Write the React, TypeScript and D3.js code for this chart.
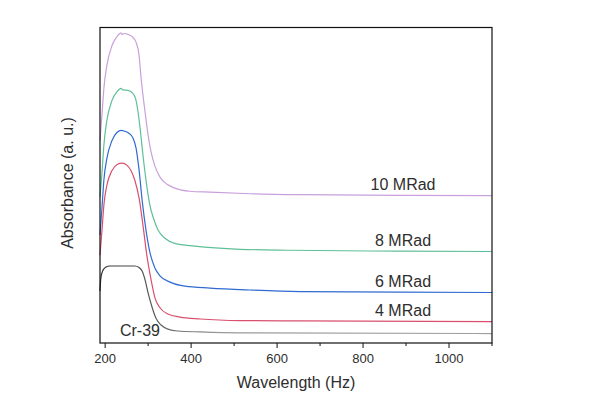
import React from "react";
import * as d3 from "d3";

const xTicksMajor = [200, 400, 600, 800, 1000];
const xTicksMinor = [300, 500, 700, 900, 1100];

const wl10 = [188, 193, 197, 204, 216, 228, 234, 237, 239, 244, 253, 262, 272, 279, 283, 288, 293, 300, 307, 316, 328, 344, 362, 397, 444, 537, 653, 886, 1100];
const abs10 = [6.42, 7.31, 8.07, 8.8, 9.43, 9.72, 9.81, 9.83, 9.78, 9.81, 9.78, 9.72, 9.53, 9.11, 8.48, 7.85, 7.31, 6.58, 6.04, 5.6, 5.25, 5.03, 4.91, 4.81, 4.78, 4.73, 4.7, 4.68, 4.67];

const wl8 = [188, 193, 197, 204, 216, 228, 237, 241, 253, 262, 270, 276, 281, 288, 295, 304, 314, 323, 339, 362, 409, 514, 630, 886, 1100];
const abs8 = [4.62, 5.47, 6.27, 7.06, 7.69, 7.97, 8.07, 8.02, 8.01, 7.94, 7.78, 7.37, 6.84, 5.95, 5.16, 4.37, 3.89, 3.58, 3.32, 3.16, 3.07, 2.97, 2.94, 2.91, 2.9];

const wl6 = [188, 193, 197, 204, 216, 228, 237, 246, 255, 265, 272, 279, 286, 295, 304, 316, 328, 351, 386, 444, 537, 653, 886, 1100];
const abs6 = [3.42, 4.37, 5.16, 5.85, 6.42, 6.68, 6.74, 6.71, 6.65, 6.49, 6.17, 5.47, 4.53, 3.58, 2.88, 2.37, 2.12, 1.93, 1.8, 1.74, 1.68, 1.63, 1.61, 1.6];

const wl4 = [188, 193, 197, 204, 216, 228, 239, 251, 260, 269, 279, 288, 297, 307, 316, 328, 346, 374, 421, 514, 653, 1100];
const abs4 = [2.78, 3.64, 4.37, 5.0, 5.47, 5.66, 5.7, 5.63, 5.47, 5.16, 4.59, 3.73, 2.78, 1.99, 1.42, 1.11, 0.92, 0.82, 0.76, 0.71, 0.7, 0.68];

const wlCr = [188, 190, 195, 202, 211, 234, 269, 279, 286, 293, 300, 309, 318, 330, 346, 369, 421, 514, 1100];
const absCr = [1.65, 2.06, 2.31, 2.41, 2.44, 2.44, 2.44, 2.39, 2.28, 1.99, 1.58, 1.14, 0.79, 0.57, 0.44, 0.38, 0.35, 0.32, 0.3];

const seriesNames = ["10 MRad", "8 MRad", "6 MRad", "4 MRad", "Cr-39"];
const seriesColors = ["#c9a0dc", "#5fbf98", "#2f6bd0", "#d9506e", "#6a6a6a"];

const W = 600;
const H = 398;
const left = 100;
const right = 492;
const top = 27.5;
const bottom = 343;

export default function App() {
  const x = d3.scaleLinear().domain([188, 1100]).range([left, right]);
  const y = d3.scaleLinear().domain([0, 10]).range([bottom, top]);
  const line = d3
    .line<[number, number]>()
    .x((d) => x(d[0]))
    .y((d) => y(d[1]))
    .curve(d3.curveMonotoneX);

  const wls = [wl10, wl8, wl6, wl4, wlCr];
  const abss = [abs10, abs8, abs6, abs4, absCr];
  const font = "'Liberation Sans', Arial, sans-serif";
  const textColor = "#2e2e2e";

  return (
    <svg
      width={W}
      height={H}
      style={{ position: "absolute", left: 0, top: 0, background: "#fff" }}
      fontFamily={font}
    >
      <defs>
        <linearGradient id="crgrad" x1="0" x2="1" y1="0" y2="0">
          <stop offset="0" stopColor="#333" />
          <stop offset="0.12" stopColor="#555" />
          <stop offset="0.3" stopColor="#999" />
          <stop offset="1" stopColor="#a0a0a0" />
        </linearGradient>
      </defs>
      {wls.map((w, i) => {
        const pts = w.map((v, j) => [v, abss[i][j]] as [number, number]);
        return (
          <path
            key={seriesNames[i]}
            d={line(pts) || ""}
            fill="none"
            stroke={i === 4 ? "url(#crgrad)" : seriesColors[i]}
            strokeWidth={1.2}
          />
        );
      })}
      <rect
        x={left}
        y={top}
        width={right - left}
        height={bottom - top}
        fill="none"
        stroke="#111"
        strokeWidth={1.2}
      />
      {xTicksMajor.map((t) => (
        <g key={"M" + t}>
          <line x1={x(t)} x2={x(t)} y1={bottom} y2={bottom + 5} stroke="#111" strokeWidth={1} />
          <text x={x(t)} y={bottom + 20} textAnchor="middle" fontSize={13} fill={textColor}>
            {t}
          </text>
        </g>
      ))}
      {xTicksMinor.map((t) => (
        <line key={"m" + t} x1={x(t)} x2={x(t)} y1={bottom} y2={bottom + 3} stroke="#111" strokeWidth={1} />
      ))}
      <text x={(left + right) / 2} y={388} textAnchor="middle" fontSize={16} fill={textColor}>
        Wavelength (Hz)
      </text>
      <text
        transform={`translate(73, 183) rotate(-90)`}
        textAnchor="middle"
        fontSize={16}
        fill={textColor}
      >
        Absorbance (a. u.)
      </text>
      {seriesNames.slice(0, 4).map((n, i) => {
        const a = abss[i];
        return (
          <text
            key={"l" + n}
            x={x(893)}
            y={y(a[a.length - 1]) - 6}
            textAnchor="middle"
            fontSize={16}
            fill={textColor}
          >
            {n}
          </text>
        );
      })}
      <text x={x(281)} y={336} textAnchor="middle" fontSize={16} fill={textColor}>
        {seriesNames[4]}
      </text>
    </svg>
  );
}
